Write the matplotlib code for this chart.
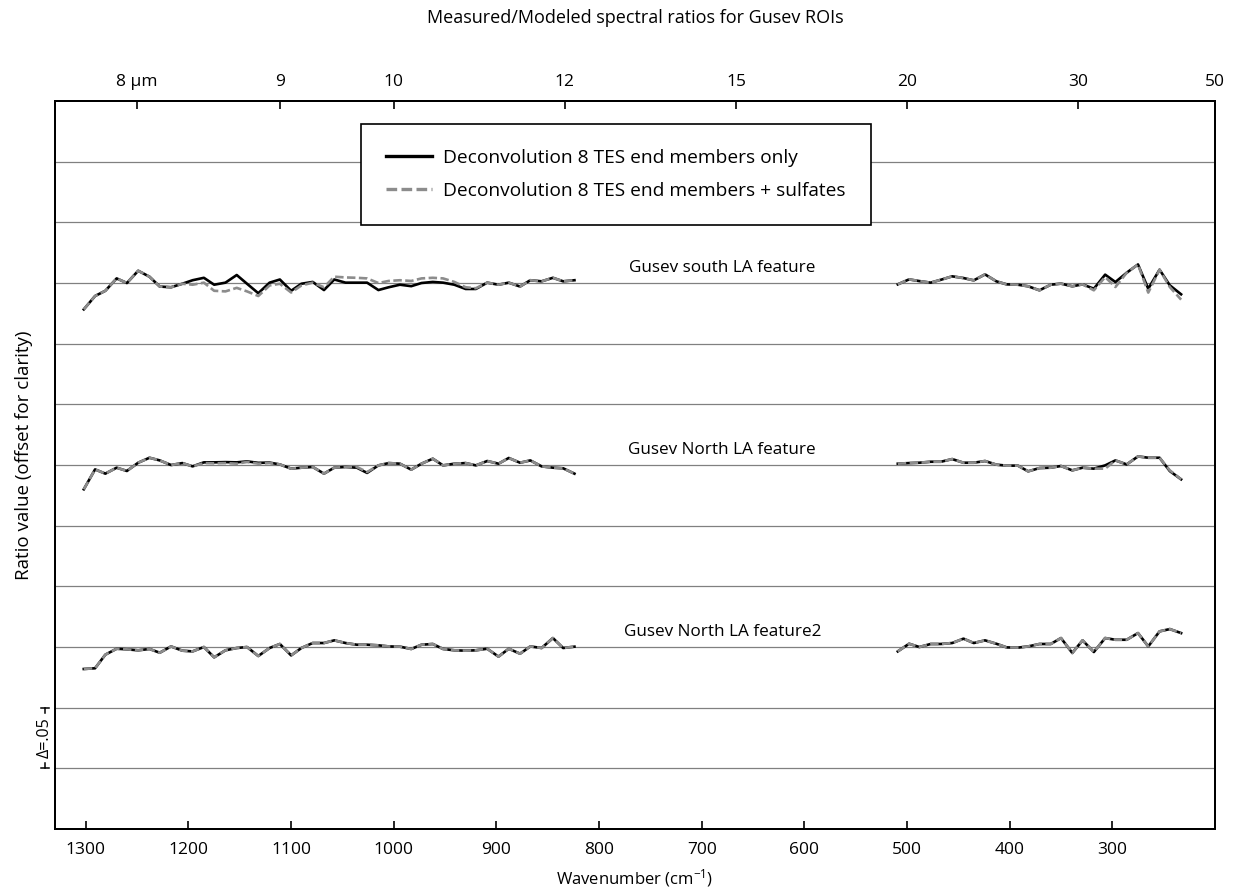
import numpy as np
import matplotlib
matplotlib.use('Agg')
import matplotlib.pyplot as plt
import matplotlib.transforms as mtransforms

plt.rcParams['font.family'] = ['Open Sans', 'DejaVu Sans']
plt.rcParams['mathtext.default'] = 'regular'

# TES channel wavenumbers (cm-1) of the two plotted ranges
wn_short = [1302, 1291, 1281, 1270, 1260, 1249, 1238, 1228, 1217, 1206, 1196, 1185, 1175, 1164, 1153,
            1143, 1132, 1121, 1111, 1100, 1090, 1079, 1068, 1058, 1047, 1036, 1026, 1015, 1005, 994,
            983, 973, 962, 952, 941, 930, 920, 909, 898, 888, 877, 867, 856, 845, 835, 824]
wn_long = [509, 498, 488, 477, 467, 456, 445, 435, 424, 413, 403, 392, 382, 371, 360, 350, 339, 329,
           318, 307, 297, 286, 275, 265, 254, 244, 233]

# measured/modeled ratios, 8 TES end members only
south_short_tes = [0.9783, 0.9893, 0.9936, 1.0038, 1.0000, 1.0101, 1.0052, 0.9971, 0.9965, 0.9994,
                   1.0023, 1.0043, 0.9986, 1.0003, 1.0066, 0.9994, 0.9916, 1.0003, 1.0029, 0.9936,
                   0.9994, 1.0009, 0.9942, 1.0029, 1.0003, 1.0003, 1.0003, 0.9942, 0.9965, 0.9986,
                   0.9974, 1.0000, 1.0009, 1.0003, 0.9986, 0.9951, 0.9951, 1.0003, 0.9986, 1.0003,
                   0.9971, 1.0023, 1.0014, 1.0043, 1.0014, 1.0023]
south_long_tes = [0.9989, 1.0030, 1.0016, 1.0003, 1.0027, 1.0055, 1.0041, 1.0022, 1.0071, 1.0014,
                  0.9989, 0.9986, 0.9973, 0.9940, 0.9986, 0.9995, 0.9973, 0.9989, 0.9953, 1.0069,
                  1.0008, 1.0085, 1.0153, 0.9953, 1.0110, 0.9981, 0.9907]
north_short_tes = [0.9800, 0.9964, 0.9929, 0.9978, 0.9951, 1.0019, 1.0060, 1.0038, 1.0000, 1.0016,
                   0.9989, 1.0022, 1.0022, 1.0024, 1.0022, 1.0030, 1.0018, 1.0020, 1.0005, 0.9970,
                   0.9978, 0.9984, 0.9929, 0.9978, 0.9984, 0.9978, 0.9935, 0.9997, 1.0016, 1.0011,
                   0.9962, 1.0011, 1.0052, 0.9997, 1.0011, 1.0016, 0.9997, 1.0033, 1.0011, 1.0058,
                   1.0019, 1.0038, 0.9989, 0.9978, 0.9973, 0.9929]
north_long_tes = [1.0011, 1.0016, 1.0019, 1.0027, 1.0027, 1.0049, 1.0019, 1.0019, 1.0033, 1.0003,
                  0.9995, 0.9995, 0.9948, 0.9975, 0.9978, 0.9992, 0.9956, 0.9978, 0.9970, 0.9997,
                  1.0038, 1.0005, 1.0071, 1.0060, 1.0060, 0.9950, 0.9882]
north2_short_tes = [0.9819, 0.9825, 0.9937, 0.9986, 0.9981, 0.9973, 0.9984, 0.9953, 1.0005, 0.9970,
                    0.9964, 1.0000, 0.9915, 0.9973, 0.9992, 1.0000, 0.9926, 0.9992, 1.0025, 0.9931,
                    0.9992, 1.0033, 1.0033, 1.0055, 1.0033, 1.0019, 1.0019, 1.0014, 1.0005, 1.0003,
                    0.9984, 1.0019, 1.0025, 0.9984, 0.9973, 0.9970, 0.9973, 0.9986, 0.9921, 0.9986,
                    0.9945, 1.0005, 0.9992, 1.0074, 0.9992, 1.0003]
north2_long_tes = [0.9964, 1.0027, 1.0000, 1.0025, 1.0025, 1.0033, 1.0069, 1.0033, 1.0055, 1.0027,
                   0.9997, 0.9995, 1.0005, 1.0025, 1.0025, 1.0074, 0.9951, 1.0055, 0.9959, 1.0074,
                   1.0060, 1.0060, 1.0115, 1.0005, 1.0129, 1.0148, 1.0115]

# measured/modeled ratios, 8 TES end members + sulfates
south_short_sulf = [0.9783, 0.9893, 0.9936, 1.0038, 1.0000, 1.0101, 1.0052, 0.9971, 0.9965, 0.9994,
                    0.9986, 1.0003, 0.9936, 0.9931, 0.9960, 0.9931, 0.9893, 0.9980, 0.9994, 0.9922,
                    0.9980, 1.0003, 0.9965, 1.0052, 1.0046, 1.0043, 1.0038, 1.0000, 1.0017, 1.0023,
                    1.0017, 1.0038, 1.0043, 1.0038, 1.0009, 0.9965, 0.9957, 1.0003, 0.9986, 1.0003,
                    0.9971, 1.0023, 1.0014, 1.0043, 1.0014, 1.0023]
south_long_sulf = [0.9989, 1.0030, 1.0016, 1.0003, 1.0027, 1.0055, 1.0041, 1.0022, 1.0071, 1.0014,
                   0.9989, 0.9986, 0.9973, 0.9940, 0.9986, 0.9995, 0.9973, 0.9989, 0.9940, 1.0049,
                   0.9967, 1.0085, 1.0153, 0.9921, 1.0110, 0.9967, 0.9863]
north_short_sulf = [0.9800, 0.9964, 0.9929, 0.9978, 0.9951, 1.0019, 1.0060, 1.0038, 1.0000, 1.0016,
                    0.9989, 1.0016, 1.0014, 1.0016, 1.0011, 1.0025, 1.0011, 1.0016, 1.0005, 0.9970,
                    0.9978, 0.9984, 0.9929, 0.9978, 0.9984, 0.9984, 0.9942, 0.9997, 1.0016, 1.0011,
                    0.9962, 1.0011, 1.0052, 0.9997, 1.0011, 1.0016, 0.9997, 1.0033, 1.0011, 1.0058,
                    1.0019, 1.0038, 0.9989, 0.9978, 0.9973, 0.9929]
north_long_sulf = [1.0011, 1.0016, 1.0019, 1.0027, 1.0027, 1.0049, 1.0019, 1.0019, 1.0033, 1.0003,
                   0.9995, 0.9995, 0.9948, 0.9975, 0.9978, 0.9992, 0.9956, 0.9978, 0.9970, 0.9970,
                   1.0038, 1.0005, 1.0071, 1.0060, 1.0060, 0.9956, 0.9882]
north2_short_sulf = north2_short_tes
north2_long_sulf = north2_long_tes

features = ['Gusev south LA feature', 'Gusev North LA feature', 'Gusev North LA feature2']
feature_offsets = [0.45, 0.30, 0.15]
series_tes = [(south_short_tes, south_long_tes), (north_short_tes, north_long_tes),
              (north2_short_tes, north2_long_tes)]
series_sulf = [(south_short_sulf, south_long_sulf), (north_short_sulf, north_long_sulf),
               (north2_short_sulf, north2_long_sulf)]
legend_labels = ['Deconvolution 8 TES end members only', 'Deconvolution 8 TES end members + sulfates']

top_um = [8, 9, 10, 12, 15, 20, 30, 50]
top_labels = ['8 \u00b5m', '9', '10', '12', '15', '20', '30', '50']
bottom_ticks = [1300, 1200, 1100, 1000, 900, 800, 700, 600, 500, 400, 300]
grid_levels = [0.05, 0.10, 0.15, 0.20, 0.25, 0.30, 0.35, 0.40, 0.45, 0.50, 0.55]

fig = plt.figure(figsize=(12.37, 8.9), dpi=100)
ax = fig.add_axes([0.0445, 0.0685, 0.9377, 0.818])

black_kw = dict(color='black', lw=1.9)
gray_kw = dict(color='#8c8c8c', lw=1.9, linestyle=(0, (3.2, 1.3)))

handles = []
for name, off, tes, sulf in zip(features, feature_offsets, series_tes, series_sulf):
    for wn, vals in zip([wn_short, wn_long], tes):
        hb, = ax.plot(wn, np.array(vals) - 1 + off, **black_kw)
    for wn, vals in zip([wn_short, wn_long], sulf):
        hg, = ax.plot(wn, np.array(vals) - 1 + off, **gray_kw)
    if not handles:
        handles = [hb, hg]
    ax.text(680, off + 0.0124, name, ha='center', va='center', fontsize=12.3)

ax.set_xlim(1330, 200)
ax.set_ylim(0, 0.6)
ax.set_xticks(bottom_ticks)
ax.set_yticks(grid_levels)
ax.yaxis.grid(True, color='#808080', lw=0.9)
ax.set_axisbelow(True)
ax.tick_params(axis='y', length=0, labelleft=False)
ax.tick_params(axis='x', direction='in', length=6, width=1.2, labelsize=12.5, pad=9)
for s in ax.spines.values():
    s.set_linewidth(1.4)

top = ax.twiny()
top.set_xlim(ax.get_xlim())
top.set_xticks([10000.0 / u for u in top_um])
top.set_xticklabels(top_labels)
top.tick_params(axis='x', direction='in', length=6, width=1.2, labelsize=12.5, pad=8)
for s in top.spines.values():
    s.set_linewidth(1.4)

leg = ax.legend(handles, legend_labels, loc='upper left', bbox_to_anchor=(0.2638, 0.9684),
                borderaxespad=0, fontsize=13.8, handlelength=2.4, handletextpad=0.6,
                borderpad=1.3, labelspacing=0.78, fancybox=False, edgecolor='black', framealpha=1)
leg.get_frame().set_linewidth(1.2)
for h in leg.get_lines():
    h.set_linewidth(2.4)

# delta = .05 scale bar left of the axis
tr = mtransforms.blended_transform_factory(ax.transAxes, ax.transData)
bx = -0.0086
for yc in [0.05, 0.10]:
    ax.plot([bx - 0.0035, bx + 0.0035], [yc, yc], color='black', lw=1.1, transform=tr, clip_on=False)
ax.plot([bx, bx], [0.05, 0.0545], color='black', lw=1.1, transform=tr, clip_on=False)
ax.plot([bx, bx], [0.0955, 0.10], color='black', lw=1.1, transform=tr, clip_on=False)
ax.text(bx, 0.075, '\u0394=.05', rotation=90, ha='center', va='center', fontsize=11.5,
        transform=tr, clip_on=False)

fig.text(0.5133, 0.98, 'Measured/Modeled spectral ratios for Gusev ROIs', ha='center', va='center', fontsize=13)
fig.text(0.5133, 0.0135, 'Wavenumber (cm$^{-1}$)', ha='center', va='center', fontsize=12)
fig.text(0.0190, 0.488, 'Ratio value (offset for clarity)', rotation=90, ha='center', va='center', fontsize=13.5)

fig.savefig('out.png', dpi=100)
